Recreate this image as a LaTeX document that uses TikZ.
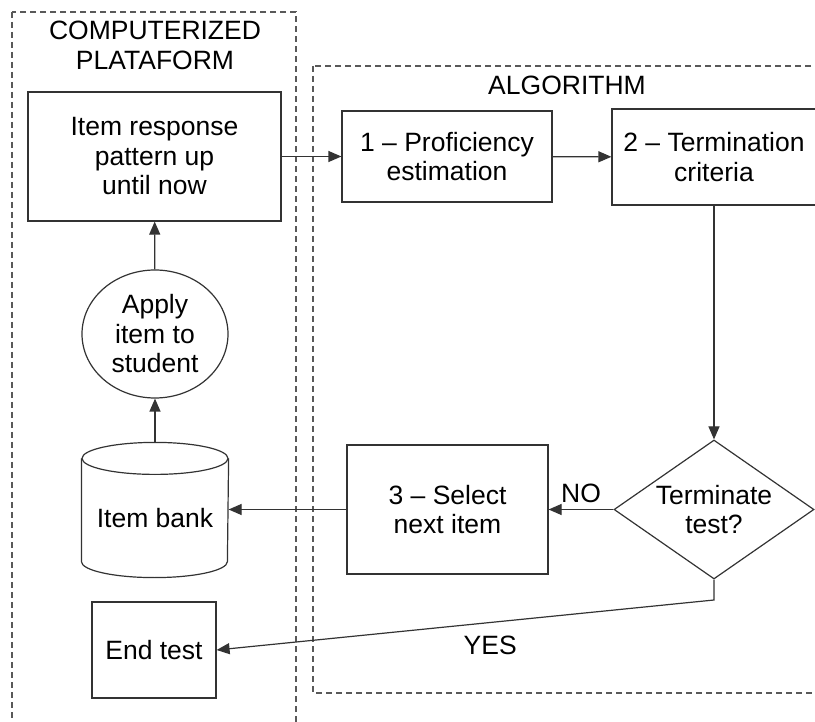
\documentclass[tikz,border=0pt]{standalone}
\usepackage{fontspec}
\setmainfont{Liberation Sans}
\usetikzlibrary{arrows.meta,shapes.geometric}

\tikzset{
  flow/.style={draw=black!80,line width=1.2pt,-{Triangle[length=13pt,width=11pt]}},
  frame/.style={draw=black!65,line width=1.1pt,dash pattern=on 6pt off 4pt},
  tag/.style={inner sep=2pt},
}

\begin{document}
\begin{tikzpicture}[x=1pt,y=-1pt,font=\fontsize{26.5}{29.5}\selectfont]

      \useasboundingbox (0,0) rectangle (815,722);
      \clip (0,0) rectangle (815,722);

      % dashed frames
      \path[frame] (12,12) rectangle (296,740);
      \path[frame] (313,66) rectangle (840,693);

      \node (plat) at (155,45.5) [align=center] {COMPUTERIZED\\PLATAFORM};
      \node (algo) at (567,85) {ALGORITHM};

      \begin{scope}[every node/.style={draw=black!80,line width=1.2pt,align=center,inner sep=0pt}]
        \node (resp)  at (154.5,156.5) [minimum width=253pt,minimum height=129pt] {Item response\\pattern up\\until now};
        \node (prof)  at (447,156.5)   [minimum width=210pt,minimum height=91pt]  {1 \textendash{} Proficiency\\estimation};
        \node (term)  at (714,157)     [minimum width=204pt,minimum height=96pt]  {2 \textendash{} Termination\\criteria};
        \node (dec)   at (714,509.5)   [diamond,aspect=1.44,minimum width=200pt,minimum height=139pt] {Terminate\\test?};
        \node (sel)   at (447.5,509.5) [minimum width=201pt,minimum height=129pt] {3 \textendash{} Select\\next item};
        \node (apply) at (155,334)     [ellipse,minimum width=146pt,minimum height=128pt] {Apply\\item to\\student};
        \node (endt)  at (154,650)     [minimum width=124pt,minimum height=96pt]  {End test};
        \node (bank)  at (155,518)     [draw=none,minimum width=146pt,minimum height=118pt] {Item bank};
      \end{scope}

      % cylinder of the item bank
      \draw[black!80,line width=1.2pt] (bank.north west) -- ([yshift=16pt]bank.south west)
        arc[start angle=180,end angle=360,x radius=73pt,y radius=16pt] -- (bank.north east);
      \draw[black!80,line width=1.2pt] (bank.north) ellipse[x radius=73pt,y radius=16pt];

      \coordinate (yesbend) at (714,600);

      \begin{scope}[every edge/.style={flow}]
        \path (resp)  edge (prof);
        \path (prof)  edge (term);
        \path (term)  edge (dec);
        \path (dec)   edge node[tag,above=4pt] {NO} (sel);
        \path (sel)   edge (sel.west -| bank.east);
        \path ([yshift=16pt]bank.north) edge (apply);
        \path (apply) edge (resp);
      \end{scope}
      \draw[flow] (dec.south) -- (yesbend) -- node[tag,pos=.45,below=11pt] {YES} (endt.east);

    \end{tikzpicture}
\end{document}
